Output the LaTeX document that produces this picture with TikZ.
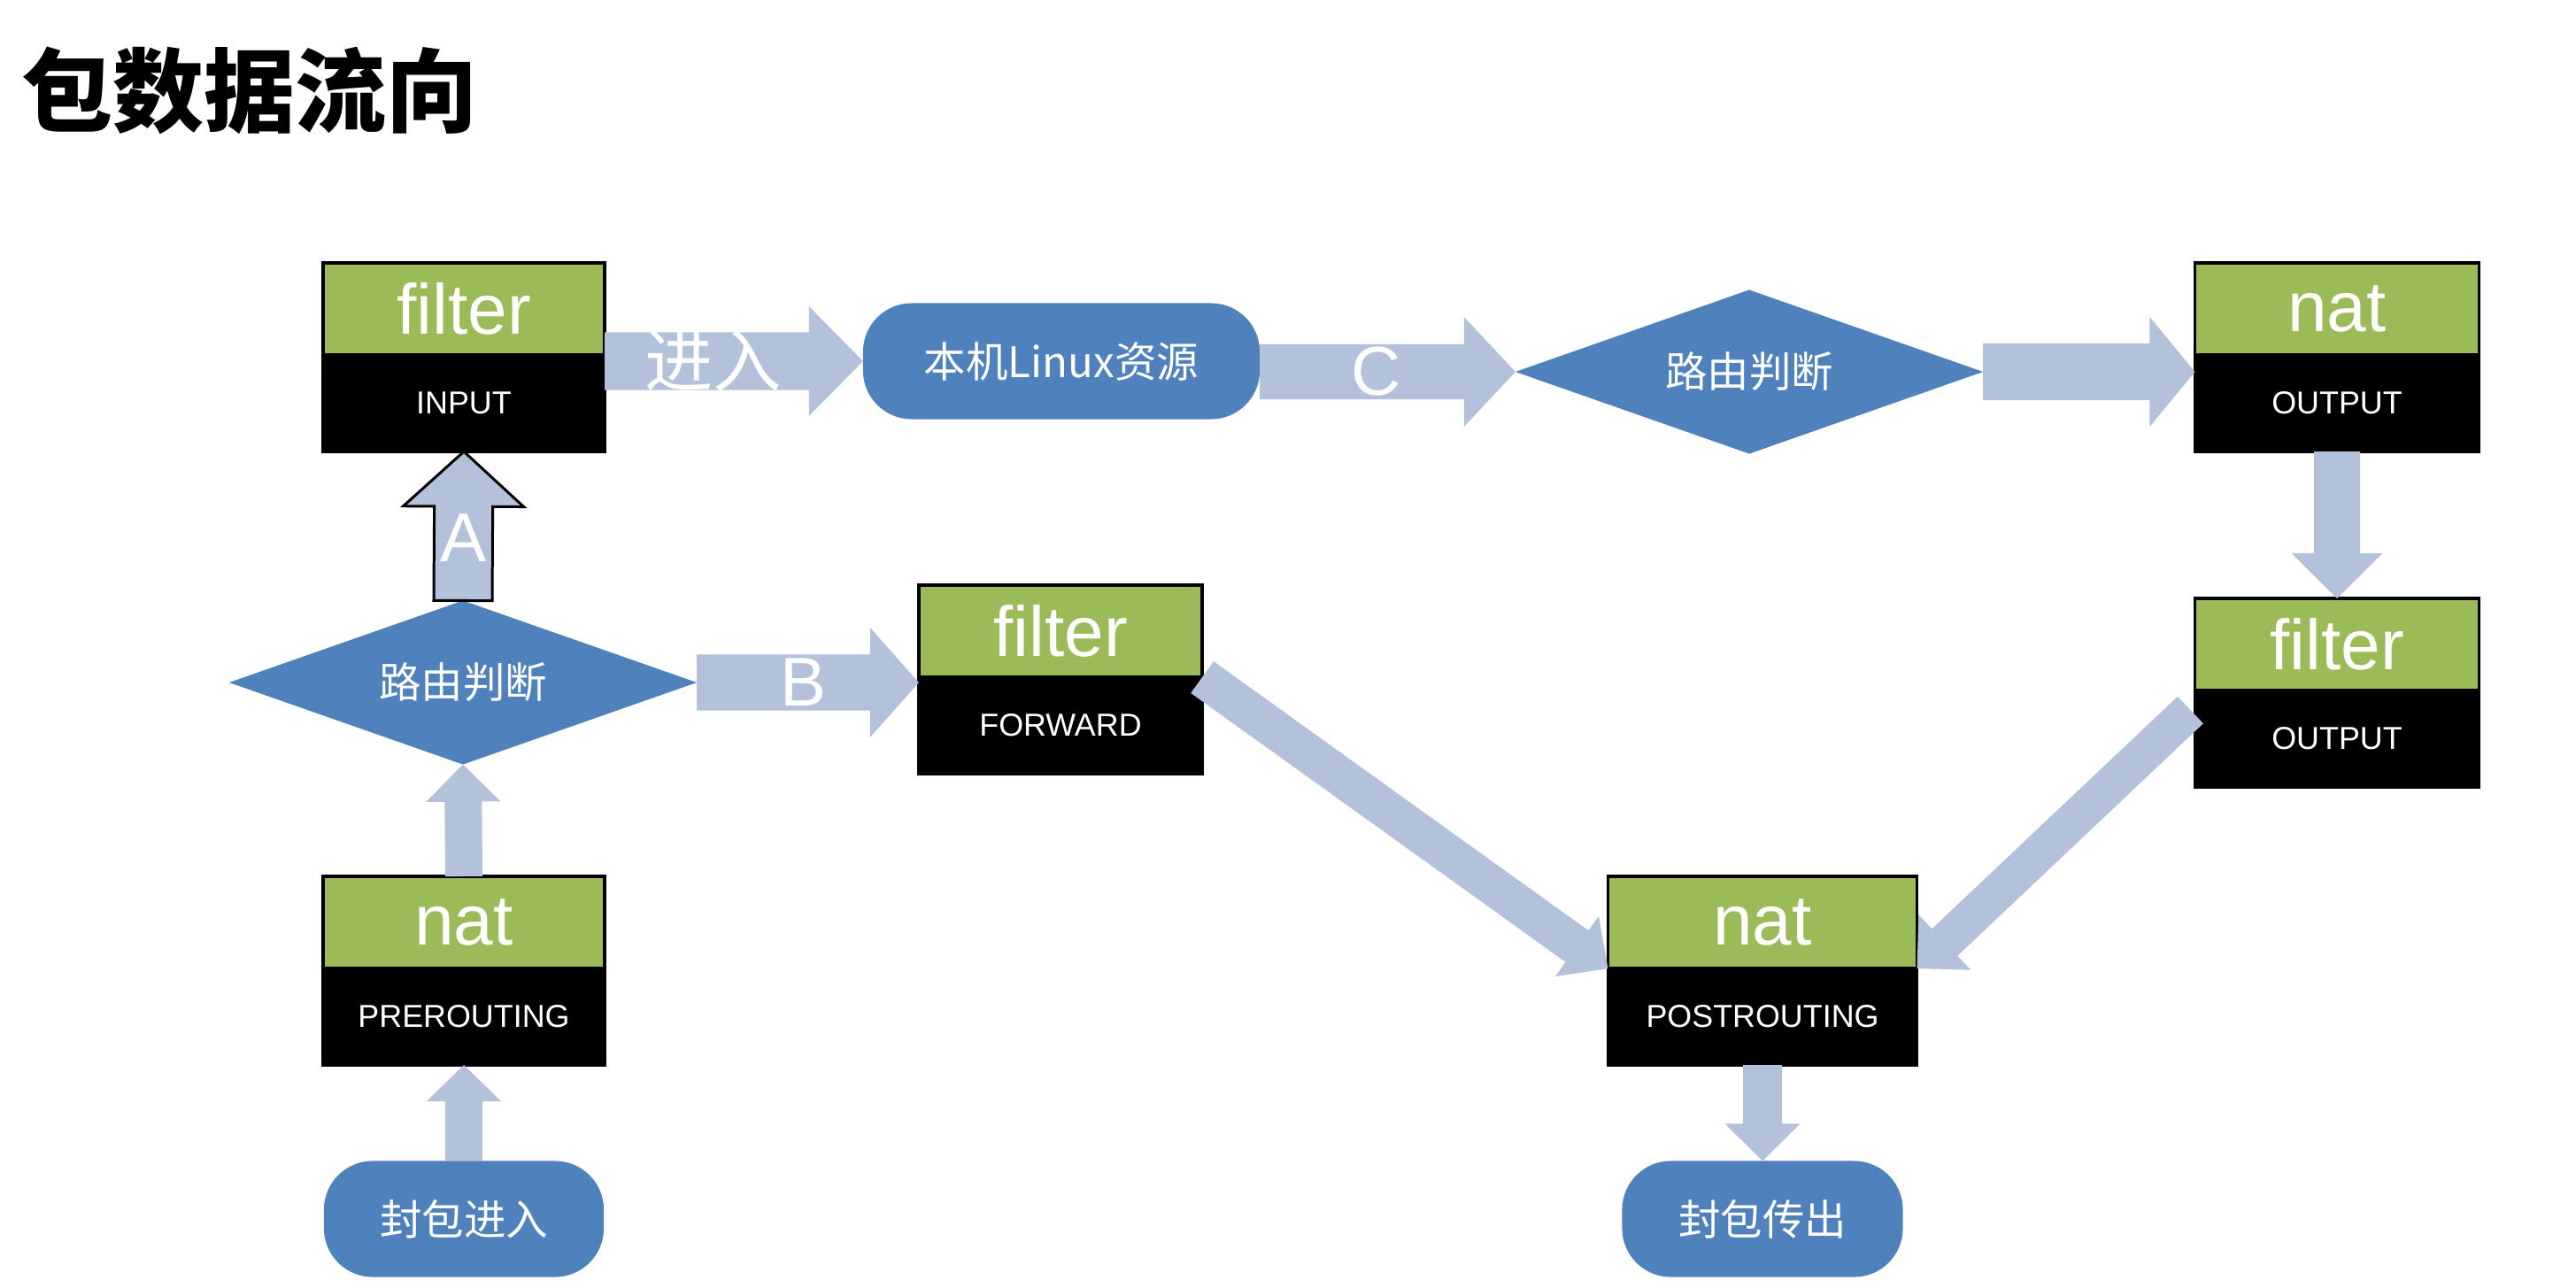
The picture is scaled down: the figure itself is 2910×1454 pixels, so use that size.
\documentclass[tikz,border=0pt]{standalone}
\usepackage{fontspec}
\setmainfont{Liberation Sans}
\newfontfamily\cjk{Noto Sans CJK SC}
\usepackage{tikz}
\usetikzlibrary{positioning}
\usetikzlibrary{shapes.geometric}
\usetikzlibrary{calc}
\definecolor{tablegreen}{RGB}{155,187,89}
\definecolor{flowblue}{RGB}{79,129,189}
\definecolor{pipeblue}{RGB}{180,193,219}
\tikzstyle{tabletop}=[rectangle,fill=tablegreen,draw=black,line width=1pt,minimum height=1.04cm,inner sep=0pt,outer sep=0pt,text=white,font=\fontsize{22.8}{24}\selectfont]
\tikzstyle{chainbox}=[rectangle,fill=black,draw=black,line width=1pt,minimum height=1.09cm,inner sep=0pt,outer sep=0pt,text=white,font=\fontsize{10.2}{12}\selectfont]
\tikzstyle{decision}=[diamond,shape aspect=2.85,fill=flowblue,minimum width=5.28cm,minimum height=1.85cm,inner sep=0pt,outer sep=0pt,text=white,font=\cjk\fontsize{13.5}{15}\selectfont]
\tikzstyle{terminal}=[rectangle,rounded corners=0.55cm,fill=flowblue,minimum height=1.31cm,inner sep=0pt,outer sep=0pt,text=white,font=\cjk\fontsize{13.5}{15}\selectfont]
\tikzstyle{pipe}=[fill=pipeblue]
\tikzstyle{outlinedpipe}=[fill=pipeblue,draw=black,line width=0.85pt]
\tikzstyle{pipelabel}=[text=white,inner sep=0pt,font=\fontsize{22.2}{24}\selectfont]
% block arrow: style, from, to, shaft half width, head half width, head length (cm)
\newcommand{\fatarrow}[6]{%
  \coordinate (fa-base) at ($(#3)!#6cm!(#2)$);
  \path[#1] ($(#2)!#4cm!90:(#3)$) -- ($(fa-base)!#4cm!-90:(#2)$) -- ($(fa-base)!#5cm!-90:(#2)$) -- (#3)
     -- ($(fa-base)!#5cm!90:(#2)$) -- ($(fa-base)!#4cm!90:(#2)$) -- ($(#2)!#4cm!-90:(#3)$) -- cycle;}

\begin{document}
\begin{tikzpicture}[x=0.01cm,y=-0.01cm]
\useasboundingbox (0,0) rectangle (2910,1454);

    % Title
    \node[anchor=west,inner sep=0pt,font=\cjk\bfseries\fontsize{29.3}{32}\selectfont] (title) at (24,102) {包数据流向};

    % First we draw the tables with their chains
    \foreach \pos/\name/\tbl/\chain/\boxw in {{(524,349)/in/filter/INPUT/3.18}, {(1198,713)/fw/filter/FORWARD/3.2}, {(524,1042)/pre/nat/PREROUTING/3.18}, {(2640,349)/no/nat/OUTPUT/3.21}, {(2640,728)/fo/filter/OUTPUT/3.21}, {(1991,1042)/post/nat/POSTROUTING/3.49}}
    {
        \node[tabletop,minimum width=\boxw cm] (\name-t) at \pos {\tbl};
        \node[chainbox,minimum width=\boxw cm,below=0pt of \name-t] (\name-b) {\chain};
    }

    % Start, end and local process
    \foreach \pos/\name/\txt/\boxw in {{(1199,408)/local/本机Linux资源/4.48}, {(524,1377)/pktin/封包进入/3.16}, {(1991,1377)/pktout/封包传出/3.17}}
        \node[terminal,minimum width=\boxw cm] (\name) at \pos {\txt};

    % Routing decisions
    \foreach \pos/\name in {{(523,771)/route1}, {(1976,420)/route2}}
        \node[decision] (\name) at \pos {路由判断};

    \coordinate (in-r) at (local.west -| in-t.east);
    \coordinate (local-r) at (route2.west -| local.east);
    \coordinate (no-l) at (route2.east -| no-t.west);
    \coordinate (fw-l) at (route1.east -| fw-t.west);
    \coordinate (fo-l) at ($(fo-t.south west)+(-5,22)$);

    % Connect them with block arrows
    \foreach \source/\dest/\shaft/\head/\tip in {in-r/local.west/0.325/0.62/0.61, local-r/route2.west/0.31/0.62/0.58, route2.east/no-l/0.32/0.62/0.51, no-b.south/fo-t.north/0.26/0.515/0.51, fw-t.south east/post-t.south west/0.22/0.42/0.43, fo-l/post-t.south east/0.21/0.43/0.43, post-b.south/pktout.north/0.22/0.425/0.42, pktin.north/pre-b.south/0.21/0.42/0.41, pre-t.north/route1.south/0.21/0.42/0.42, route1.east/fw-l/0.315/0.62/0.55}
        \fatarrow{pipe}{\source}{\dest}{\shaft}{\head}{\tip};
    \fatarrow{outlinedpipe}{route1.north}{in-b.south}{0.33}{0.68}{0.62};

    % Labels on the arrows
    \node[pipelabel] (lab-a) at ($(route1.north)!0.42!(in-b.south)$) {A};
    \node[pipelabel] (lab-b) at ($(route1.east)!0.48!(fw-l)$) {B};
    \node[pipelabel] (lab-c) at ($(local-r)!0.457!(route2.west)$) {C};
    \node[pipelabel,font=\cjk\fontsize{22}{24}\selectfont] (lab-in) at ($(in-r)!0.42!(local.west)$) {进入};

\end{tikzpicture}
\end{document}
